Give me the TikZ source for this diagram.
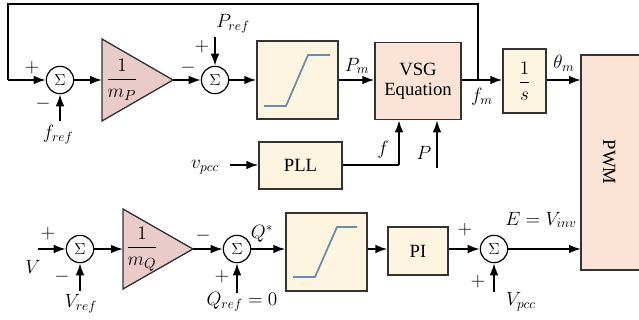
\documentclass[tikz,border=0pt]{standalone}
\usepackage{amsmath}
\usepackage{fontspec}
\setmainfont{Liberation Serif}
\usetikzlibrary{arrows.meta,calc}
\definecolor{cream}{HTML}{FDF5E0}
\definecolor{peach}{HTML}{FBE4D6}
\definecolor{pinkfill}{HTML}{E9CCCA}
\definecolor{satline}{HTML}{6A8CAE}
\definecolor{edge}{HTML}{333333}
\tikzset{
  conn/.style={line width=1.3pt,-{Latex[length=9pt,width=6.5pt]}},
  wire/.style={line width=1.3pt},
  sumnode/.style={circle,draw=black,line width=0.9pt,fill=white,minimum size=20.5pt,inner sep=0pt,font=\fontsize{12}{12}\selectfont},
  blk/.style={draw=edge,line width=1pt,fill=cream,inner sep=0pt,font=\fontsize{14}{16}\selectfont},
  vsgblk/.style={draw=edge,line width=1pt,fill=peach,inner sep=0pt,align=center,font=\fontsize{14}{15}\selectfont},
  lbl/.style={inner sep=0pt,font=\fontsize{14.5}{15}\selectfont},
  sgn/.style={inner sep=0pt,font=\fontsize{14}{14}\selectfont},
  tri/.style={draw=edge,line width=1pt,fill=pinkfill},
  satcurve/.style={draw=satline,line width=1.3pt}
}
\begin{document}
\begin{tikzpicture}[x=0.75pt,y=-0.75pt]
\useasboundingbox (0,0) rectangle (639,320);
% PWM block (right side open past the edge)
\fill[peach] (581,55) rectangle (645,270);
\draw[edge,line width=1pt] (645,55) -- (581,55) -- (581,270) -- (645,270);
\node[lbl,rotate=-90,font=\fontsize{14}{14}\selectfont] (pwm) at (609,162) {PWM};
\coordinate (pwmtop) at (581,80);
\coordinate (pwmbot) at (581,249);

% ---------- top row ----------
\node[sumnode] (s1) at (60,80) {$\Sigma$};
\draw[tri] (102,39) -- (173,80) -- (102,121) -- cycle;
\coordinate (t1in) at (102,80);
\coordinate (t1out) at (173,80);
\node[lbl,font=\fontsize{15}{16}\selectfont] (t1txt) at (122,80) {$\dfrac{1}{m_P}$};
\node[sumnode] (s2) at (215,80) {$\Sigma$};
\node[blk,minimum width=60.75pt,minimum height=58.5pt] (sat1) at (297.5,80) {};
\draw[satcurve] (264,106) -- (286,106) -- (308,55) -- (330,55);
\node[vsgblk,minimum width=64.5pt,minimum height=58pt] (vsg) at (418,81) {VSG\\Equation};
\node[blk,minimum width=32.25pt,minimum height=48pt,font=\fontsize{14}{16}\selectfont] (ints) at (524.5,81) {$\dfrac{1}{s}$};
\node[blk,minimum width=62.25pt,minimum height=35.25pt] (pll) at (300.5,165.5) {PLL};

\coordinate (fbl) at (8,80);
\coordinate (jn) at (478,80);
\coordinate (fref) at (60,121);
\coordinate (pref) at (215,37);
\coordinate (vpcc) at (230,165);
\coordinate (pin) at (437,168);
\coordinate (fup) at (399,165);

\draw[wire] (jn) -- (478,4) -- (8,4) -- (fbl);
\draw[conn] (fbl) -- (s1.west);
\draw[conn] (fref) -- (s1.south);
\draw[conn] (s1.east) -- (t1in);
\draw[conn] (t1out) -- (s2.west);
\draw[conn] (pref) -- (s2.north);
\draw[conn] (s2.east) -- (sat1.west);
\draw[conn] (sat1.east) -- (vsg.west |- sat1.east);
\draw[wire] (vsg.east |- jn) -- (jn);
\draw[conn] (jn) -- (ints.west |- jn);
\draw[conn] (ints.east |- jn) -- (pwmtop);
\draw[conn] (vpcc) -- (pll.west |- vpcc);
\draw[wire] (pll.east |- fup) -- (fup);
\draw[conn] (fup) -- (fup |- vsg.south);
\draw[conn] (pin) -- (pin |- vsg.south);

% top labels
\node[sgn] (p1) at (32,68) {$+$};
\node[sgn] (m1) at (43,104) {$-$};
\node[lbl] (lfref) at (58,135) {$f_{ref}$};
\node[sgn] (m2) at (188,68) {$-$};
\node[sgn] (p2) at (202,47) {$+$};
\node[lbl] (lpref) at (233,24) {$P_{ref}$};
\node[lbl] (lpm) at (357,66) {$P_m$};
\node[lbl] (lfm) at (482,97) {$f_m$};
\node[lbl] (lth) at (564,63) {$\theta_m$};
\node[lbl] (lf) at (383,150) {$f$};
\node[lbl] (lp) at (424,153) {$P$};
\node[lbl] (lvpcc) at (205,167) {$v_{pcc}$};

% ---------- bottom row ----------
\node[sumnode] (s4) at (80,249) {$\Sigma$};
\draw[tri] (123,209) -- (193,249) -- (123,289) -- cycle;
\coordinate (t2in) at (123,249);
\coordinate (t2out) at (193,249);
\node[lbl,font=\fontsize{15}{16}\selectfont] (t2txt) at (142,249) {$\dfrac{1}{m_Q}$};
\node[sumnode] (s5) at (237,249) {$\Sigma$};
\node[blk,minimum width=60.75pt,minimum height=58.5pt] (sat2) at (326.5,252) {};
\draw[satcurve] (293,277) -- (315,277) -- (337,227) -- (357,227);
\node[blk,minimum width=45pt,minimum height=36pt] (pi) at (418,251) {PI};
\node[sumnode] (s6) at (494,249) {$\Sigma$};

\coordinate (vin) at (38,249);
\coordinate (vref) at (80,291);
\coordinate (qref) at (237,293);
\coordinate (vpccb) at (494,292);

\draw[conn] (vin) -- (s4.west);
\draw[conn] (vref) -- (s4.south);
\draw[conn] (s4.east) -- (t2in);
\draw[conn] (t2out) -- (s5.west);
\draw[conn] (qref) -- (s5.south);
\draw[conn] (s5.east) -- (sat2.west |- s5.east);
\draw[conn] (sat2.east |- s5.east) -- (pi.west |- s5.east);
\draw[conn] (pi.east |- s6.west) -- (s6.west);
\draw[conn] (vpccb) -- (s6.south);
\draw[conn] (s6.east) -- (pwmbot);

% bottom labels
\node[sgn] (p4) at (48,234) {$+$};
\node[lbl] (lv) at (33,267) {$V$};
\node[sgn] (m4) at (62,277) {$-$};
\node[lbl] (lvref) at (81,304) {$V_{ref}$};
\node[sgn] (m5) at (203,236) {$-$};
\node[sgn] (p5) at (222,277) {$+$};
\node[lbl] (lqref) at (242,302) {$Q_{ref}=0$};
\node[lbl] (lqs) at (262,234) {$Q^{*}$};
\node[sgn] (p6) at (465,230) {$+$};
\node[sgn] (p7) at (478,282) {$+$};
\node[lbl] (lvpccb) at (521,302) {$V_{pcc}$};
\node[lbl] (le) at (541,220) {$E=V_{inv}$};
\end{tikzpicture}
\end{document}
